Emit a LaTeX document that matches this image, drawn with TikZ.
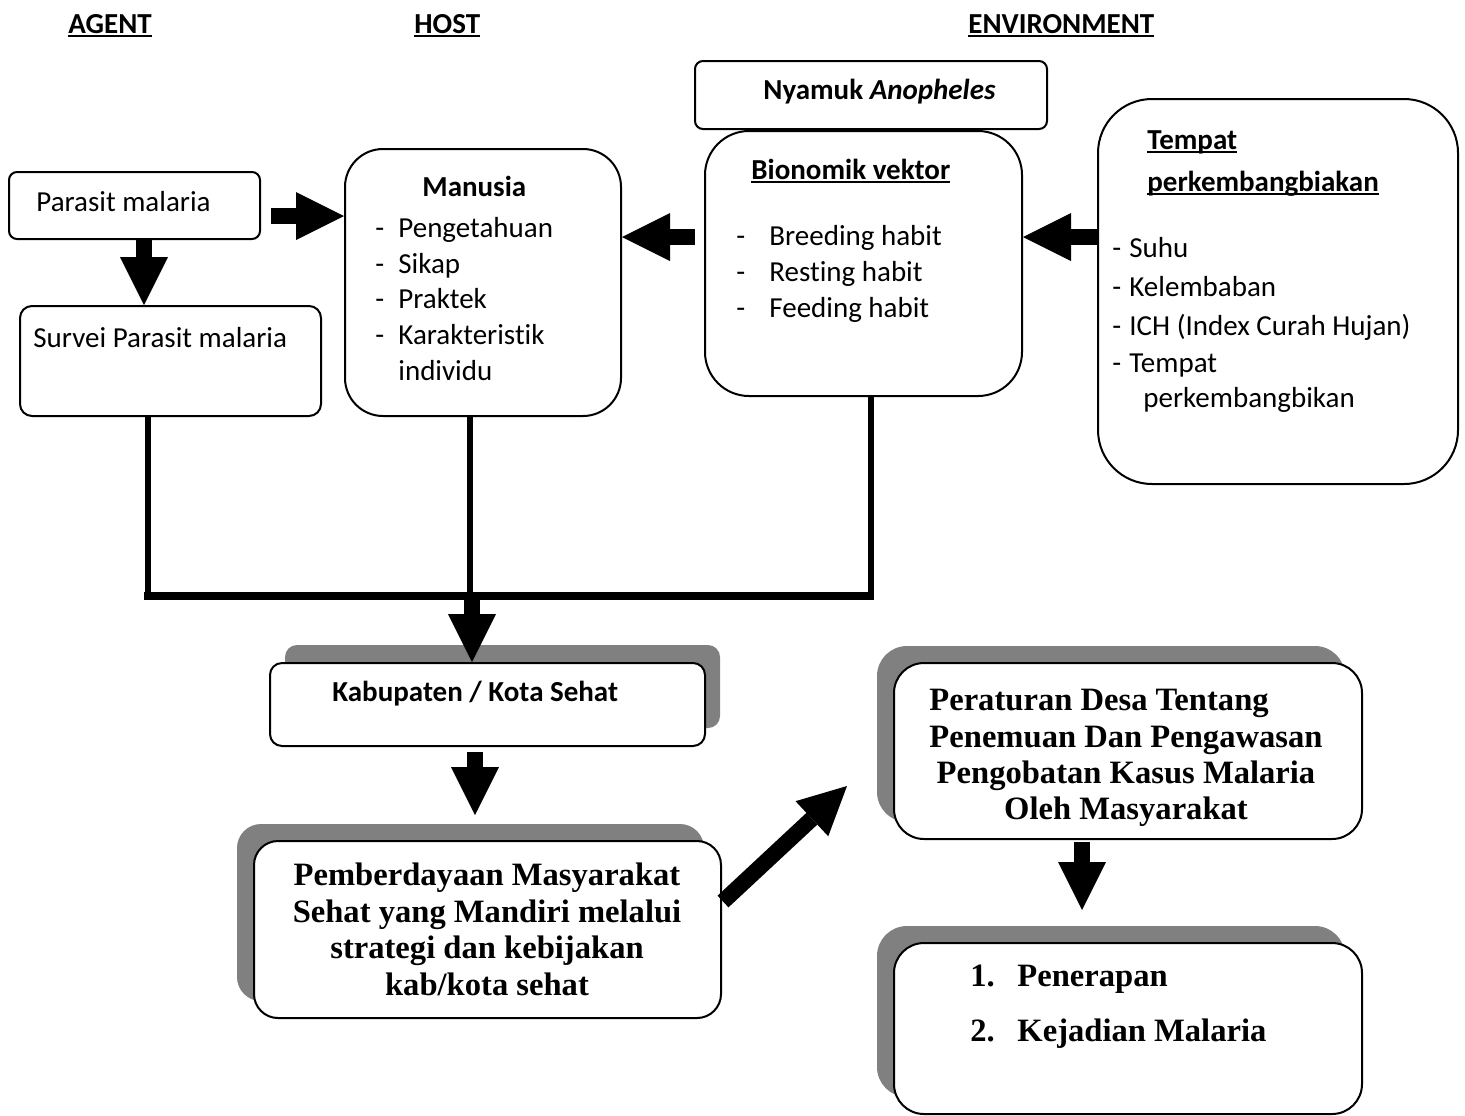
\documentclass[tikz,border=0pt]{standalone}
\usepackage{fontspec}
\setmainfont[Ligatures={NoCommon,NoContextual}]{Carlito}
\newfontfamily\tnr{Liberation Serif}
\usetikzlibrary{arrows.meta,calc}
\definecolor{shadowgray}{RGB}{128,128,128}
\newcommand\myul[1]{\setbox0\hbox{#1}\rlap{\rule[-2pt]{\wd0}{0.9pt}}\box0}
\begin{document}
\begin{tikzpicture}[x=0.5pt,y=-0.5pt,
  box/.style={draw, line width=1pt, fill=white, inner sep=0pt, anchor=north west},
  shad/.style={fill=shadowgray},
  txt/.style={anchor=base west, inner sep=0pt, font=\fontsize{14.5}{17}\selectfont},
  btxt/.style={txt, font=\fontsize{14.5}{17}\selectfont\bfseries},
  ttxt/.style={anchor=base, inner sep=0pt, font=\fontsize{16.3}{18}\selectfont\tnr\bfseries},
  tltxt/.style={ttxt, anchor=base west},
  blk/.style={line width=8pt, line cap=butt, -{Triangle[length=24pt, width=24pt, line width=0pt]}},
  vline/.style={line width=3pt, line cap=butt},
  hline/.style={line width=4pt, line cap=butt}]
\useasboundingbox (0,0) rectangle (1465,1115);

% headers
\node[btxt] (hA) at (68,33) {\myul{AGENT}};
\node[btxt] (hH) at (414,33) {\myul{HOST}};
\node[btxt] (hE) at (968,33) {\myul{ENVIRONMENT}};

% shadows
\fill[shad, rounded corners=6pt] (285,645) rectangle (720,728);
\fill[shad, rounded corners=12pt] (237,824) rectangle (704,1001);
\fill[shad, rounded corners=15pt] (877,646) rectangle (1345,822);
\fill[shad, rounded corners=15pt] (877,926) rectangle (1345,1097);

% boxes
\node[box, minimum width=125.5pt, minimum height=33.5pt, rounded corners=4pt] (pm) at (8,171) {};
\node[box, minimum width=150.5pt, minimum height=55pt, rounded corners=6pt] (sv) at (19,305) {};
\node[box, minimum width=138pt, minimum height=133.5pt, rounded corners=19pt] (man) at (344,148) {};
\node[box, minimum width=176pt, minimum height=34pt, rounded corners=4pt] (nya) at (694,60) {};
\node[box, minimum width=158.5pt, minimum height=132.5pt, rounded corners=22pt] (bio) at (704,130) {};
\node[box, minimum width=180pt, minimum height=192.5pt, rounded corners=27pt] (tmp) at (1097,98) {};
\node[box, minimum width=217.5pt, minimum height=41.5pt, rounded corners=6pt] (kab) at (269,662) {};
\node[box, minimum width=233.5pt, minimum height=88.5pt, rounded corners=12pt] (pem) at (253,840) {};
\node[box, minimum width=234pt, minimum height=88pt, rounded corners=15pt] (per) at (893,662) {};
\node[box, minimum width=234pt, minimum height=85.5pt, rounded corners=15pt] (pen) at (893,942) {};

% texts
\node[txt] (tpm) at (36,211) {Parasit malaria};
\node[txt] (tsv) at (33,347) {Survei Parasit malaria};
\node[btxt] (tman) at (422,196) {Manusia};
\node[txt] (m1d) at (375,237) {-};
\node[txt] (m1) at (398,237) {Pengetahuan};
\node[txt] (m2d) at (375,273) {-};
\node[txt] (m2) at (398,273) {Sikap};
\node[txt] (m3d) at (375,308) {-};
\node[txt] (m3) at (398,308) {Praktek};
\node[txt] (m4d) at (375,344) {-};
\node[txt] (m4) at (398,344) {Karakteristik};
\node[txt] (m5) at (398,380) {individu};

\node[btxt] (tnya) at (763,99) {Nyamuk \textit{Anopheles}};
\node[btxt] (tbio) at (751,179) {\myul{Bionomik vektor}};
\node[txt] (b1d) at (736,245) {-};
\node[txt] (b1) at (769,245) {Breeding habit};
\node[txt] (b2d) at (736,281) {-};
\node[txt] (b2) at (769,281) {Resting habit};
\node[txt] (b3d) at (736,317) {-};
\node[txt] (b3) at (769,317) {Feeding habit};

\node[btxt] (ttmp1) at (1147,149) {\myul{Tempat}};
\node[btxt] (ttmp2) at (1147,191) {\myul{perkembangbiakan}};
\node[txt] (e1d) at (1112,257) {-};
\node[txt] (e1) at (1129,257) {Suhu};
\node[txt] (e2d) at (1112,296) {-};
\node[txt] (e2) at (1129,296) {Kelembaban};
\node[txt] (e3d) at (1112,335) {-};
\node[txt] (e3) at (1129,335) {ICH (Index Curah Hujan)};
\node[txt] (e4d) at (1112,372) {-};
\node[txt] (e4) at (1129,372) {Tempat};
\node[txt] (e5) at (1143,407) {perkembangbikan};

\node[btxt] (tkab) at (332,701) {Kabupaten / Kota Sehat};

\node[ttxt] (p1) at (487,885) {Pemberdayaan Masyarakat};
\node[ttxt] (p2) at (487,922) {Sehat yang Mandiri melalui};
\node[ttxt] (p3) at (487,958) {strategi dan kebijakan};
\node[ttxt] (p4) at (487,995) {kab/kota sehat};

\node[ttxt] (r1) at (1099,710) {Peraturan Desa Tentang};
\node[ttxt] (r2) at (1126,747) {Penemuan Dan Pengawasan};
\node[ttxt] (r3) at (1126,783) {Pengobatan Kasus Malaria};
\node[ttxt] (r4) at (1126,819) {Oleh Masyarakat};

\node[tltxt] (n1) at (970,986) {1.};
\node[tltxt] (n1t) at (1017,986) {Penerapan};
\node[tltxt] (n2) at (970,1041) {2.};
\node[tltxt] (n2t) at (1017,1041) {Kejadian Malaria};

% reference coordinates
\coordinate (xP) at (144,0);
\coordinate (yA) at (0,216);
\coordinate (yB) at (0,237);
\coordinate (xL) at (148,0);
\coordinate (xM) at (470,0);
\coordinate (xR) at (871,0);
\coordinate (yH) at (0,596);
\coordinate (xD) at (472,0);
\coordinate (xK) at (475,0);
\coordinate (xQ) at (1082,0);

% block arrows
\draw[blk] (xP |- pm.south) -- (xP |- sv.north);
\draw[blk] ($(pm.east |- yA)+(10,0)$) -- (man.west |- yA);
\draw[blk] ($(bio.west |- yB)+(-9,0)$) -- (man.east |- yB);
\draw[blk] (tmp.west |- yB) -- (bio.east |- yB);

% joining lines
\draw[vline] (xL |- sv.south) -- (xL |- yH);
\draw[vline] (xM |- man.south) -- (xM |- yH);
\draw[vline] (xR |- bio.south) -- (xR |- yH);
\draw[hline] ($(xL |- yH)+(-4,0)$) -- ($(xR |- yH)+(3,0)$);

\draw[blk] (xD |- yH) -- (xD |- kab.north);
\draw[blk] ($(xK |- kab.south)+(0,5)$) -- ($(xK |- pem.north)+(0,-25)$);
\draw[blk] ($(pem.east)+(1,-28)$) -- ($(per.west)+(-46,35)$);
\draw[blk] ($(xQ |- per.south)+(0,2)$) -- ($(xQ |- pen.north)+(0,-32)$);
\end{tikzpicture}
\end{document}
